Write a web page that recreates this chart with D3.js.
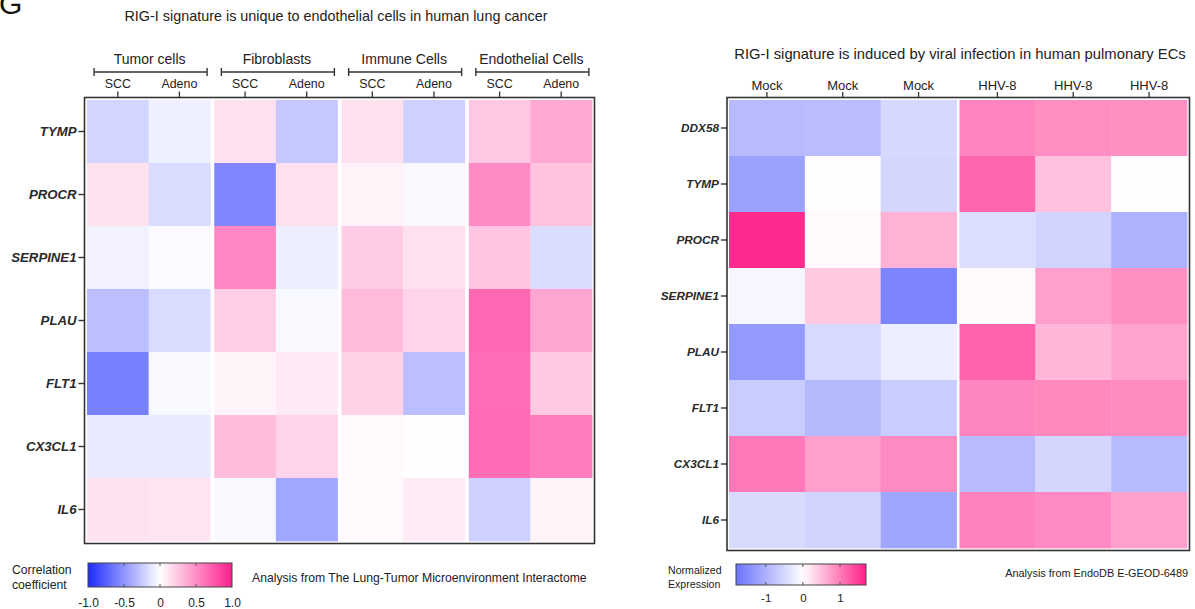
<!DOCTYPE html>
<html>
<head>
<meta charset="utf-8">
<script src="https://cdn.jsdelivr.net/npm/d3@7"></script>
<style>
  body { margin: 0; background: #fff; }
  svg { display: block; font-family: "Liberation Sans", Arial, Helvetica, sans-serif; }
</style>
</head>
<body>
<svg id="fig" width="1195" height="609"></svg>
<script>
// ---------- Panel 1: correlation with RIG-I signature in lung cancer cell types ----------
const lungGenes = ["TYMP", "PROCR", "SERPINE1", "PLAU", "FLT1", "CX3CL1", "IL6"];
const cellGroups = ["Tumor cells", "Fibroblasts", "Immune Cells", "Endothelial Cells"];
const tumorTypes = ["SCC", "Adeno"];
// one array per column, values follow lungGenes order
const tumorSCC    = [-0.20,  0.13, -0.06, -0.30, -0.60, -0.10,  0.13];
const tumorAdeno  = [-0.07, -0.17, -0.02, -0.17, -0.03, -0.10,  0.12];
const fibroSCC    = [ 0.14, -0.57,  0.54,  0.22,  0.05,  0.30, -0.03];
const fibroAdeno  = [-0.26,  0.14, -0.08, -0.03,  0.10,  0.19, -0.42];
const immuneSCC   = [ 0.14,  0.06,  0.23,  0.31,  0.20,  0.03,  0.03];
const immuneAdeno = [-0.22, -0.03,  0.14,  0.19, -0.30,  0.01,  0.09];
const endoSCC     = [ 0.25,  0.52,  0.26,  0.68,  0.65,  0.66, -0.22];
const endoAdeno   = [ 0.39,  0.27, -0.16,  0.40,  0.24,  0.58,  0.06];
const corrTicks = [-1.0, -0.5, 0, 0.5, 1.0];

// ---------- Panel 2: normalized expression, mock vs HHV-8 infected pulmonary ECs ----------
const ecGenes = ["DDX58", "TYMP", "PROCR", "SERPINE1", "PLAU", "FLT1", "CX3CL1", "IL6"];
const conditions = ["Mock", "HHV-8"];
const mock1 = [-0.87, -1.20,  1.62, -0.12, -1.29, -0.65,  1.03, -0.47];
const mock2 = [-0.85,  0.02,  0.05,  0.41, -0.48, -0.90,  0.73, -0.55];
const mock3 = [-0.50, -0.52,  0.59, -1.57, -0.22, -0.65,  0.89, -1.13];
const hhv1  = [ 0.94,  1.17, -0.42,  0.04,  1.19,  0.93, -0.87,  0.95];
const hhv2  = [ 0.87,  0.47, -0.55,  0.73,  0.55,  0.91, -0.52,  0.89];
const hhv3  = [ 0.86,  0.02, -0.98,  0.86,  0.70,  0.88, -0.88,  0.73];
const exprRange = [-1.8, 1.7];
const exprTicks = [-1, 0, 1];

const svg = d3.select("#fig");
const ink = "#222";
const hyphenNum = (d, digits) => (d === 0 ? "0" : d.toFixed(digits));

// Panel letter, partly cropped at the top edge
svg.append("text").attr("x", -1).attr("y", 14)
  .attr("font-size", 30).attr("fill", "#111").text("G");

// ===================== Panel 1 =====================
const p1 = { left: 87, right: 592, top: 100, bottom: 541 };
const corrColor = d3.scaleLinear().domain([-1, 0, 1])
  .range(["#1f2bff", "#ffffff", "#ff1f8e"]).clamp(true);

const corrColumns = [
  { group: cellGroups[0], type: "SCC", values: tumorSCC },
  { group: cellGroups[0], type: "Adeno", values: tumorAdeno },
  { group: cellGroups[1], type: "SCC", values: fibroSCC },
  { group: cellGroups[1], type: "Adeno", values: fibroAdeno },
  { group: cellGroups[2], type: "SCC", values: immuneSCC },
  { group: cellGroups[2], type: "Adeno", values: immuneAdeno },
  { group: cellGroups[3], type: "SCC", values: endoSCC },
  { group: cellGroups[3], type: "Adeno", values: endoAdeno }
];

const g1x = d3.scaleBand().domain(cellGroups).range([p1.left, p1.right]).paddingInner(0.032);
const t1x = d3.scaleBand().domain(tumorTypes).range([0, g1x.bandwidth()]);
const y1 = d3.scaleBand().domain(lungGenes).range([p1.top, p1.bottom]);
const colX1 = c => g1x(c.group) + t1x(c.type);

svg.append("text").attr("x", 336).attr("y", 21).attr("text-anchor", "middle")
  .attr("font-size", 14.4).attr("fill", ink)
  .text("RIG-I signature is unique to endothelial cells in human lung cancer");

const cells1 = svg.append("g");
corrColumns.forEach(c => {
  cells1.selectAll(null).data(c.values).join("rect")
    .attr("x", colX1(c))
    .attr("y", (d, i) => y1(lungGenes[i]))
    .attr("width", t1x.bandwidth() + 0.4)
    .attr("height", y1.bandwidth() + 0.4)
    .attr("fill", d => corrColor(d));
});

// frame
svg.append("rect").attr("x", 84.5).attr("y", 97.5)
  .attr("width", 594.5 - 84.5).attr("height", 543.5 - 97.5)
  .attr("fill", "none").attr("stroke", "#333").attr("stroke-width", 1.6);

// row axis
const yAxis1 = svg.append("g").attr("transform", "translate(84.5,0)")
  .call(d3.axisLeft(y1).tickSize(6).tickPadding(2));
yAxis1.select(".domain").remove();
yAxis1.selectAll("line").attr("stroke", "#333").attr("stroke-width", 1.4);
yAxis1.selectAll("text").attr("font-size", 13.2).attr("font-style", "italic")
  .attr("font-weight", "bold").attr("fill", "#2a2a2a").attr("font-family", null);

// column ticks and labels
corrColumns.forEach(c => {
  const cx = colX1(c) + t1x.bandwidth() / 2;
  svg.append("line").attr("x1", cx).attr("x2", cx).attr("y1", 91.5).attr("y2", 97.5)
    .attr("stroke", "#333").attr("stroke-width", 1.3);
  svg.append("text").attr("x", cx).attr("y", 88).attr("text-anchor", "middle")
    .attr("font-size", 12.4).attr("fill", ink).text(c.type);
});

// group brackets
cellGroups.forEach(gn => {
  const cx = g1x(gn) + g1x.bandwidth() / 2 + 2;
  const half = 56.5;
  const b = svg.append("g").attr("stroke", "#333").attr("stroke-width", 1.4);
  b.append("line").attr("x1", cx - half).attr("x2", cx + half).attr("y1", 72).attr("y2", 72);
  b.append("line").attr("x1", cx - half).attr("x2", cx - half).attr("y1", 68).attr("y2", 76);
  b.append("line").attr("x1", cx + half).attr("x2", cx + half).attr("y1", 68).attr("y2", 76);
  svg.append("text").attr("x", cx - 1).attr("y", 64).attr("text-anchor", "middle")
    .attr("font-size", 14).attr("fill", ink).text(gn);
});

// colour legend
const defs = svg.append("defs");
function gradient(id, scale, domain) {
  const lg = defs.append("linearGradient").attr("id", id).attr("x1", "0%").attr("x2", "100%");
  d3.range(0, 1.0001, 0.05).forEach(t => {
    lg.append("stop").attr("offset", (t * 100) + "%")
      .attr("stop-color", scale(domain[0] + t * (domain[1] - domain[0])));
  });
}
gradient("corrGrad", corrColor, [-1, 1]);
const lx1 = d3.scaleLinear().domain([-1, 1]).range([88, 232]);
svg.append("rect").attr("x", 88).attr("y", 563).attr("width", 144).attr("height", 24)
  .attr("fill", "url(#corrGrad)").attr("stroke", "#444").attr("stroke-width", 1);
corrTicks.slice(1, -1).forEach(v => {
  svg.append("line").attr("x1", lx1(v)).attr("x2", lx1(v)).attr("y1", 563).attr("y2", 566)
    .attr("stroke", "#555");
  svg.append("line").attr("x1", lx1(v)).attr("x2", lx1(v)).attr("y1", 584).attr("y2", 587)
    .attr("stroke", "#555");
});
const lax1 = svg.append("g").attr("transform", "translate(0,591)")
  .call(d3.axisBottom(lx1).tickValues(corrTicks).tickSize(0).tickPadding(7)
    .tickFormat(d => hyphenNum(d, 1)));
lax1.select(".domain").remove();
lax1.selectAll("text").attr("font-size", 12).attr("fill", ink).attr("font-family", null);
svg.append("text").attr("x", 12).attr("y", 574).attr("font-size", 12.2).attr("fill", ink).text("Correlation");
svg.append("text").attr("x", 12).attr("y", 589).attr("font-size", 12.2).attr("fill", ink).text("coefficient");
svg.append("text").attr("x", 252).attr("y", 582).attr("font-size", 12.2).attr("fill", ink)
  .text("Analysis from The Lung-Tumor Microenvironment Interactome");

// ===================== Panel 2 =====================
const p2 = { left: 729, right: 1187, top: 100, bottom: 548 };
const exprColor = d3.scaleLinear().domain([exprRange[0], 0, exprRange[1]])
  .range(["#6a72fc", "#ffffff", "#ff2088"]).clamp(true);

const exprColumns = [
  { group: "Mock", rep: 0, values: mock1 },
  { group: "Mock", rep: 1, values: mock2 },
  { group: "Mock", rep: 2, values: mock3 },
  { group: "HHV-8", rep: 0, values: hhv1 },
  { group: "HHV-8", rep: 1, values: hhv2 },
  { group: "HHV-8", rep: 2, values: hhv3 }
];
const g2x = d3.scaleBand().domain(conditions).range([p2.left, p2.right]).paddingInner(0.013);
const r2x = d3.scaleBand().domain([0, 1, 2]).range([0, g2x.bandwidth()]);
const y2 = d3.scaleBand().domain(ecGenes).range([p2.top, p2.bottom]);
const colX2 = c => g2x(c.group) + r2x(c.rep);

svg.append("text").attr("x", 960).attr("y", 59).attr("text-anchor", "middle")
  .attr("font-size", 14.8).attr("fill", ink)
  .text("RIG-I signature is induced by viral infection in human pulmonary ECs");

const cells2 = svg.append("g");
exprColumns.forEach(c => {
  cells2.selectAll(null).data(c.values).join("rect")
    .attr("x", colX2(c))
    .attr("y", (d, i) => y2(ecGenes[i]))
    .attr("width", r2x.bandwidth() + 0.4)
    .attr("height", y2.bandwidth() + 0.4)
    .attr("fill", d => exprColor(d));
});

svg.append("rect").attr("x", 727).attr("y", 97.5)
  .attr("width", 1189.5 - 727).attr("height", 550.5 - 97.5)
  .attr("fill", "none").attr("stroke", "#333").attr("stroke-width", 1.6);

const yAxis2 = svg.append("g").attr("transform", "translate(727,0)")
  .call(d3.axisLeft(y2).tickSize(6).tickPadding(2));
yAxis2.select(".domain").remove();
yAxis2.selectAll("line").attr("stroke", "#333").attr("stroke-width", 1.4);
yAxis2.selectAll("text").attr("font-size", 11.8).attr("font-style", "italic")
  .attr("font-weight", "bold").attr("fill", "#2a2a2a").attr("font-family", null);

exprColumns.forEach(c => {
  const cx = colX2(c) + r2x.bandwidth() / 2;
  svg.append("line").attr("x1", cx).attr("x2", cx).attr("y1", 92).attr("y2", 97.5)
    .attr("stroke", "#333").attr("stroke-width", 1.3);
  svg.append("text").attr("x", cx).attr("y", 90).attr("text-anchor", "middle")
    .attr("font-size", 13).attr("fill", ink).text(c.group);
});

gradient("exprGrad", exprColor, exprRange);
const lx2 = d3.scaleLinear().domain(exprRange).range([736, 866]);
svg.append("rect").attr("x", 736).attr("y", 564).attr("width", 130).attr("height", 21)
  .attr("fill", "url(#exprGrad)").attr("stroke", "#444").attr("stroke-width", 1);
exprTicks.forEach(v => {
  svg.append("line").attr("x1", lx2(v)).attr("x2", lx2(v)).attr("y1", 564).attr("y2", 567)
    .attr("stroke", "#555");
  svg.append("line").attr("x1", lx2(v)).attr("x2", lx2(v)).attr("y1", 582).attr("y2", 585)
    .attr("stroke", "#555");
});
const lax2 = svg.append("g").attr("transform", "translate(0,587)")
  .call(d3.axisBottom(lx2).tickValues(exprTicks).tickSize(0).tickPadding(7)
    .tickFormat(d => hyphenNum(d, 0)));
lax2.select(".domain").remove();
lax2.selectAll("text").attr("font-size", 11.5).attr("fill", ink).attr("font-family", null);
svg.append("text").attr("x", 668).attr("y", 574).attr("font-size", 10.6).attr("fill", ink).text("Normalized");
svg.append("text").attr("x", 668).attr("y", 588).attr("font-size", 10.6).attr("fill", ink).text("Expression");
svg.append("text").attr("x", 1188).attr("y", 577).attr("text-anchor", "end")
  .attr("font-size", 10.9).attr("fill", ink).text("Analysis from EndoDB E-GEOD-6489");
</script>
</body>
</html>
